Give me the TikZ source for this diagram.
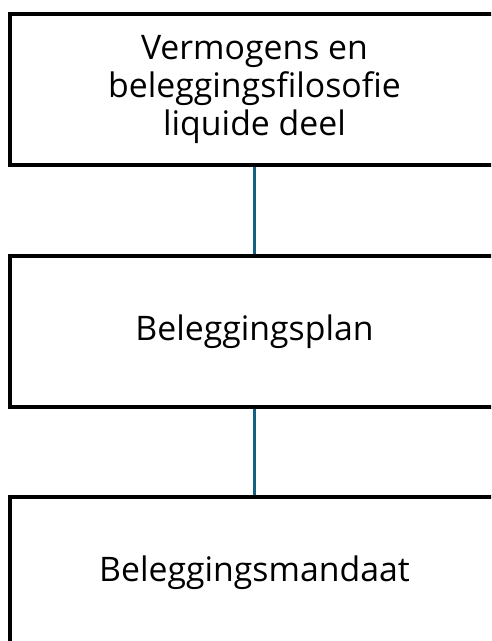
\documentclass[tikz,border=0pt]{standalone}
\usepackage{fontspec}
\setmainfont[Ligatures={NoCommon}]{Open Sans}
\definecolor{linkblue}{HTML}{156082}
\begin{document}
\begin{tikzpicture}[x=1pt,y=-1pt,
  boxstyle/.style={draw=black,line width=3.5pt,fill=white,minimum width=489pt,minimum height=151pt,inner sep=0pt,align=center,font=\fontsize{33.8}{38}\selectfont},
  linkline/.style={draw=linkblue,line width=3pt}]
\useasboundingbox (0,0) rectangle (491,641);
\clip (0,0) rectangle (491,641);
\node[boxstyle] (b1) at (254.5,89.5) {Vermogens en\\beleggingsfilosofie\\liquide deel};
\node[boxstyle] (b2) at (254.5,331.5) {Beleggingsplan};
\node[boxstyle] (b3) at (254.5,572.5) {Beleggingsmandaat};
\draw[linkline] (b1.south) -- (b2.north);
\draw[linkline] (b2.south) -- (b3.north);
\end{tikzpicture}
\end{document}
